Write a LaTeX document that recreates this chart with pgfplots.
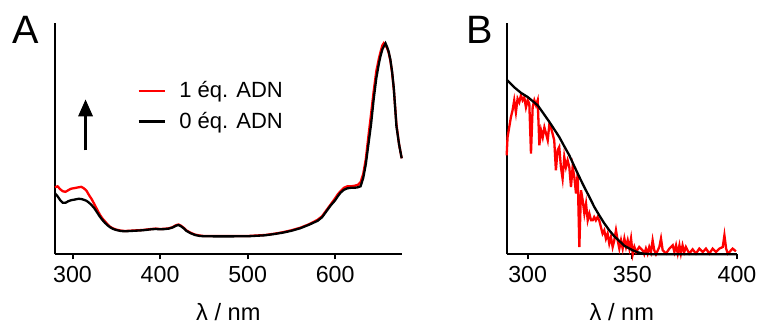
\documentclass[border=0pt]{standalone}
\usepackage{pgfplots}
\pgfplotsset{compat=1.18}
\usepackage{fontspec}
\setmainfont{Liberation Sans}
\usetikzlibrary{arrows.meta}

\pgfplotsset{
  myaxis/.style={
    scale only axis,
    axis x line=bottom, axis y line=left,
    axis line style={-, line width=1pt},
    ymin=0, ymax=231.3,
    ytick=\empty,
    tick align=outside,
    major tick length=2.5pt,
    xtick style={line width=1pt, black},
    tick label style={font=\fontsize{11.6}{13}\selectfont},
    /pgf/number format/assume math mode=true,
    xlabel={λ / nm},
    xlabel style={at={(axis description cs:0.5,0)}, anchor=base, yshift=-32.85pt, font=\fontsize{11.8}{13}\selectfont},
    height=115.65pt,
    every axis plot/.append style={line width=1.15pt},
    clip=false,
  }
}

\begin{document}
\begin{tikzpicture}
\useasboundingbox (0,0) rectangle (378.5pt,161pt);

\begin{axis}[myaxis,
  at={(27.5pt,33.85pt)}, anchor=south west,
  width=173.35pt,
  xmin=280, xmax=676,
  xtick={300,400,500,600},
  legend style={draw=none, fill=none, at={(rel axis cs:0.237,0.75)}, anchor=north west,
    inner sep=0pt, row sep=5.75pt, column sep=6.4pt,
    font=\fontsize{11}{13}\selectfont, nodes={inner sep=0pt}},
  legend cell align=left,
  legend image code/.code={\draw[#1] (0pt,0pt) -- (13.35pt,0pt);},
]
\addplot[red] coordinates {
(280,67) (283,68) (286,65) (289,63) (292,62.5) (295,64) (298,65.5) (301,66) (304,66.5) (307,67)
(310,67.5) (313,66) (316,63.5) (319,59) (322,55) (325,50) (328,45) (331,40) (334,36) (337,33)
(340,30) (343,27.5) (346,26) (350,24.7) (355,23.7) (360,23.3) (370,23.8) (380,24.3) (390,25.3)
(395,25.7) (400,25.3) (405,25.5) (410,26) (414,27) (418,29) (421,29.8) (424,28.5) (427,26.5)
(430,24) (435,21.5) (440,19.7) (445,18.8) (450,18.3) (470,18.2) (500,18.3) (520,19.3) (530,20.5)
(540,22) (550,24) (560,26.5) (570,30) (580,34.5) (585,38) (590,44) (595,50) (600,56) (603,60)
(606,63) (610,66.5) (614,68) (618,68) (622,68.5) (626,69.5) (629,72) (632,80) (635,95) (638,118)
(641,140) (644,163) (647,183) (650,196) (652,203) (654,209) (655.5,211) (657,209) (659,207)
(661,202) (663,194) (665,182) (667,165) (670,130) (673,110) (676,96)
};
\addlegendentry{1 éq. ADN}
\addplot[black] coordinates {
(280,61) (283,58) (286,54) (289,51.5) (292,51.5) (295,53) (298,54) (301,54.5) (304,55) (307,55.5)
(310,55.3) (313,54.5) (316,53.5) (319,51.5) (322,49) (325,46) (328,42) (331,38) (334,34.5)
(337,31.5) (340,29) (343,27) (346,25.5) (350,24.3) (355,23.3) (360,23) (370,23.5) (380,24)
(390,25) (395,25.3) (400,25) (405,25.2) (410,25.7) (414,26.7) (418,28.5) (421,29.3) (424,28)
(427,26) (430,23.5) (435,21) (440,19.3) (445,18.4) (450,18) (470,17.9) (500,18) (520,19)
(530,20.2) (540,21.6) (550,23.5) (560,26) (570,29.5) (580,33.5) (585,37) (590,43) (595,49)
(600,54) (603,58) (606,61.5) (610,64.5) (614,66) (618,66.5) (622,66.5) (626,67) (629,68)
(632,76) (635,90) (638,110) (641,130) (644,155) (647,176) (650,191) (652,199) (654,205)
(656,208.5) (657.5,211) (659,208) (661,203) (663,195) (665,183) (667,166) (670,128) (673,110) (676,96)
};
\addlegendentry{0 éq. ADN}
\draw[-{Triangle[width=7pt,length=8.5pt]}, line width=1.5pt] (axis cs:314.9,104) -- (axis cs:314.9,155);
\end{axis}

\begin{axis}[myaxis,
  at={(253.35pt,33.85pt)}, anchor=south west,
  width=115.15pt,
  xmin=290, xmax=400,
  xtick={300,350,400},
]
\addplot[red] coordinates {
(290,99) (290.4,117) (292.0,137) (292.8,144) (293.6,154) (294.4,142) (295.2,155.7) (296.0,152)
(296.8,159) (297.6,154) (298.4,157) (299.2,147) (300,154) (300.8,150.7) (301.6,100.7) (302.4,147)
(303.2,154) (304.0,149) (304.8,154) (305.6,109) (306.4,124) (307.2,117) (308.0,127) (308.8,120.7)
(309.6,114) (310.4,130.7) (311.1,127) (311.9,120.7) (312.7,114) (313.5,84) (314.3,104) (315.1,107.3)
(315.9,87.3) (316.7,75.7) (317.5,97.3) (318.3,87.3) (319.1,94) (319.9,87.3) (320.7,67.3) (321.5,87.3)
(322.3,77.3) (323.1,60.7) (323.9,80.7) (324.7,7.3) (325.5,64) (326.3,54) (327.1,40.7) (327.9,50.7)
(328.7,34) (329.5,40.7) (330.3,34) (331.1,34) (331.8,37.3) (332.6,34) (333.4,37.3) (334.2,34)
(335.0,27.3) (335.8,20.7) (336.6,24) (337.4,15.7) (338.2,20.7) (339.0,10.7) (339.8,17.3) (340.6,7.3)
(341.4,14) (342.2,24) (343.0,14) (343.8,5.7) (344.6,14) (345.4,5.7) (346.2,15.7) (347.0,7.3)
(347.8,14) (348.6,5.7) (349.4,15.7) (350.2,0) (351.0,7.3) (351.8,2.3) (353.3,7.3) (354.9,4)
(355.7,0) (356.5,5.7) (357.3,0.7) (358.1,7.3) (358.9,2.3) (359.7,14) (360.5,4) (361.3,0)
(362.9,7.3) (363.7,15.7) (364.5,4) (366.1,0.7) (367.7,5.7) (369.3,9) (370.1,2.3) (370.9,9)
(371.7,0.7) (372.5,9) (373.2,0.7) (374.0,9) (374.8,2.3) (375.6,7.3) (377.2,0.7) (378.8,5)
(380.4,0.7) (382.0,5.7) (383.6,2.3) (385.2,5.7) (386.8,0.7) (388.4,5.7) (390.0,2.3) (391.6,5.7)
(393.2,7.3) (394.0,19) (394.8,5.7) (395.6,0.7) (396.4,2.3) (397.9,5.7) (399.5,3)
};
\addplot[black] coordinates {
(290,174.7) (293.6,167) (296.8,161.5) (300,157.3) (304.8,149) (307.5,141) (310.4,132.3)
(312.7,125) (315.1,117.3) (317.5,108) (319.9,99) (322.3,88) (324.7,77.3) (327.1,67)
(329.5,57.3) (331.8,47.5) (334.2,39) (336.6,31) (339,24) (341.4,18) (343.8,13.3) (346.2,8.5)
(350.2,4) (352.6,2) (355,0.7) (360,0) (400,0)
};
\end{axis}

\node[anchor=base west, inner sep=0pt, font=\fontsize{19.8}{22}\selectfont] at (5.85pt,139.35pt) {A};
\node[anchor=base west, inner sep=0pt, font=\fontsize{19.8}{22}\selectfont] at (233.2pt,139.35pt) {B};
\end{tikzpicture}
\end{document}
